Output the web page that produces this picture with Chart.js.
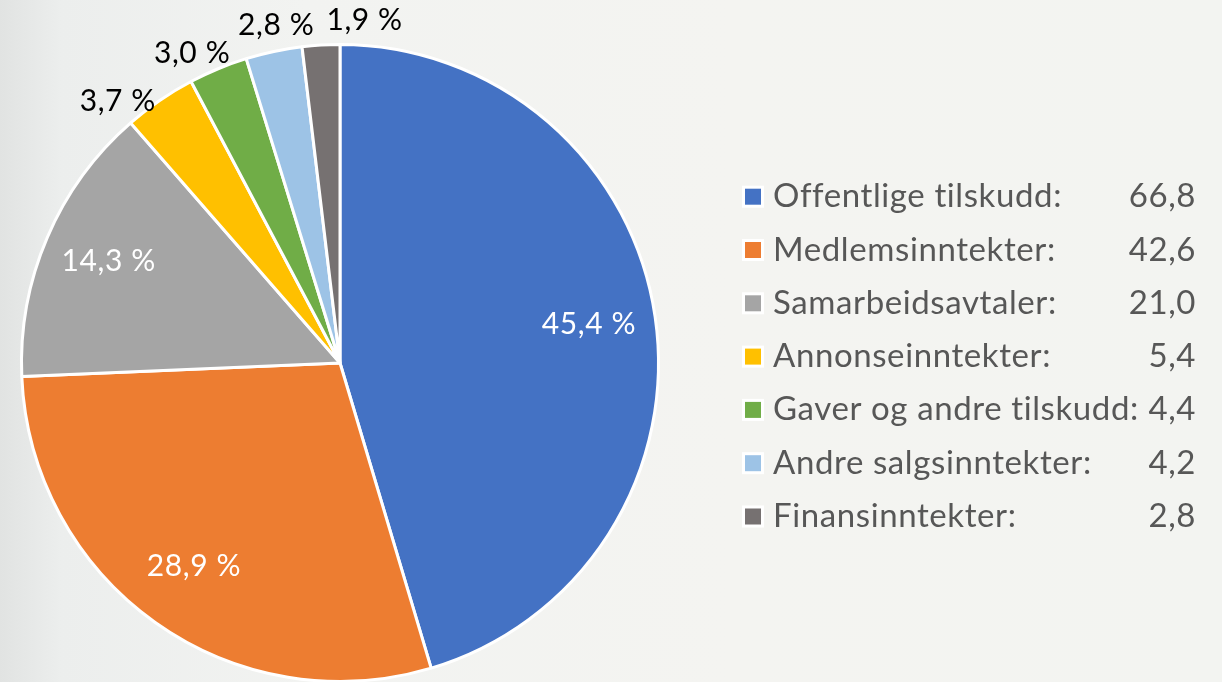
<!DOCTYPE html>
<html>
<head>
<meta charset="utf-8">
<script src="https://cdn.jsdelivr.net/npm/chart.js"></script>
<style>
  html, body { margin: 0; padding: 0; }
  body {
    width: 1222px; height: 682px; overflow: hidden;
    background: linear-gradient(90deg, #e1e3e2 0%, #eceeed 5%, #f2f3f1 25%, #f4f4f1 60%, #f3f4f1 100%);
  }
  #wrap { position: relative; width: 1222px; height: 686px; }
</style>
</head>
<body>
<div id="wrap"><canvas id="pie" width="1222" height="686"></canvas></div>
<script>
// data
const categories = ['Offentlige tilskudd', 'Medlemsinntekter', 'Samarbeidsavtaler', 'Annonseinntekter',
                    'Gaver og andre tilskudd', 'Andre salgsinntekter', 'Finansinntekter'];
const values = [66.8, 42.6, 21.0, 5.4, 4.4, 4.2, 2.8];
const shares = [45.4, 28.9, 14.3, 3.7, 3.0, 2.8, 1.9];
const colors = ['#4472c4', '#ed7d31', '#a5a5a5', '#ffc000', '#70ad47', '#9dc3e6', '#767171'];

const FONT = 'Lato, "Open Sans", sans-serif';

function fmt(v) {
    return v.toFixed(1).replace('.', ',');
}

//percentage labels, big slices inside, small ones outside spread apart
const sliceLabels = {
    id: 'sliceLabels',
    afterDatasetsDraw(chart) {
        const ctx = chart.ctx;
        const arcs = chart.getDatasetMeta(0).data;
        ctx.save();
        ctx.font = '30px ' + FONT;
        ctx.letterSpacing = '0.6px';
        ctx.textAlign = 'center';
        ctx.textBaseline = 'middle';

        let outside = [];
        arcs.forEach((arc, i) => {
            const p = arc.getProps(['x', 'y', 'startAngle', 'endAngle', 'outerRadius'], true);
            const mid = (p.startAngle + p.endAngle) / 2;
            if (shares[i] >= 10) {
                const r = p.outerRadius * 0.79;
                ctx.fillStyle = '#ffffff';
                ctx.fillText(fmt(shares[i]) + ' %', p.x + Math.cos(mid) * r, p.y + Math.sin(mid) * r - 2);
            } else {
                outside.push({ i: i, a: mid, p: p });
            }
        });

        // spread the small ones if they crowd each other
        const minGap = 14.8 * Math.PI / 180;
        let crowded = false;
        for (let k = 1; k < outside.length; k++) {
            if (outside[k].a - outside[k - 1].a < minGap) crowded = true;
        }
        if (crowded) {
            const mean = outside.reduce((s, o) => s + o.a, 0) / outside.length;
            const first = mean - minGap * (outside.length - 1) / 2;
            outside.forEach((o, k) => { o.a = first + k * minGap; });
        }

        ctx.fillStyle = '#000000';
        outside.forEach(o => {
            const r = o.p.outerRadius + 25;
            ctx.fillText(fmt(shares[o.i]) + ' %', o.p.x + Math.cos(o.a) * r, o.p.y + Math.sin(o.a) * r);
        });
        ctx.restore();
    }
};

//legend on the right with values right aligned
const sideLegend = {
    id: 'sideLegend',
    afterDraw(chart) {
        const ctx = chart.ctx;
        const left = 745, right = 1196, top = 196.7, step = 53.3;
        ctx.save();
        ctx.font = '33px ' + FONT;
        ctx.letterSpacing = '0.6px';
        ctx.textBaseline = 'alphabetic';
        categories.forEach((c, i) => {
            const y = top + i * step;
            ctx.fillStyle = '#ffffff';
            ctx.fillRect(left - 3, y - 11, 22, 22);
            ctx.fillStyle = colors[i];
            ctx.fillRect(left, y - 8, 16, 16);
            ctx.fillStyle = '#575757';
            ctx.textAlign = 'left';
            ctx.fillText(c + ':', left + 28, y + 10.5);
            ctx.textAlign = 'right';
            ctx.fillText(fmt(values[i]), right, y + 10.5);
        });
        ctx.restore();
    }
};

new Chart(document.getElementById('pie'), {
    type: 'pie',
    data: {
        labels: categories,
        datasets: [{
            data: values,
            backgroundColor: colors,
            borderColor: '#ffffff',
            borderWidth: 3
        }]
    },
    options: {
        responsive: false,
        animation: false,
        layout: { padding: { left: 20, right: 562, top: 43, bottom: 3 } },
        plugins: {
            legend: { display: false },
            tooltip: { enabled: false }
        }
    },
    plugins: [sliceLabels, sideLegend]
});
</script>
</body>
</html>
